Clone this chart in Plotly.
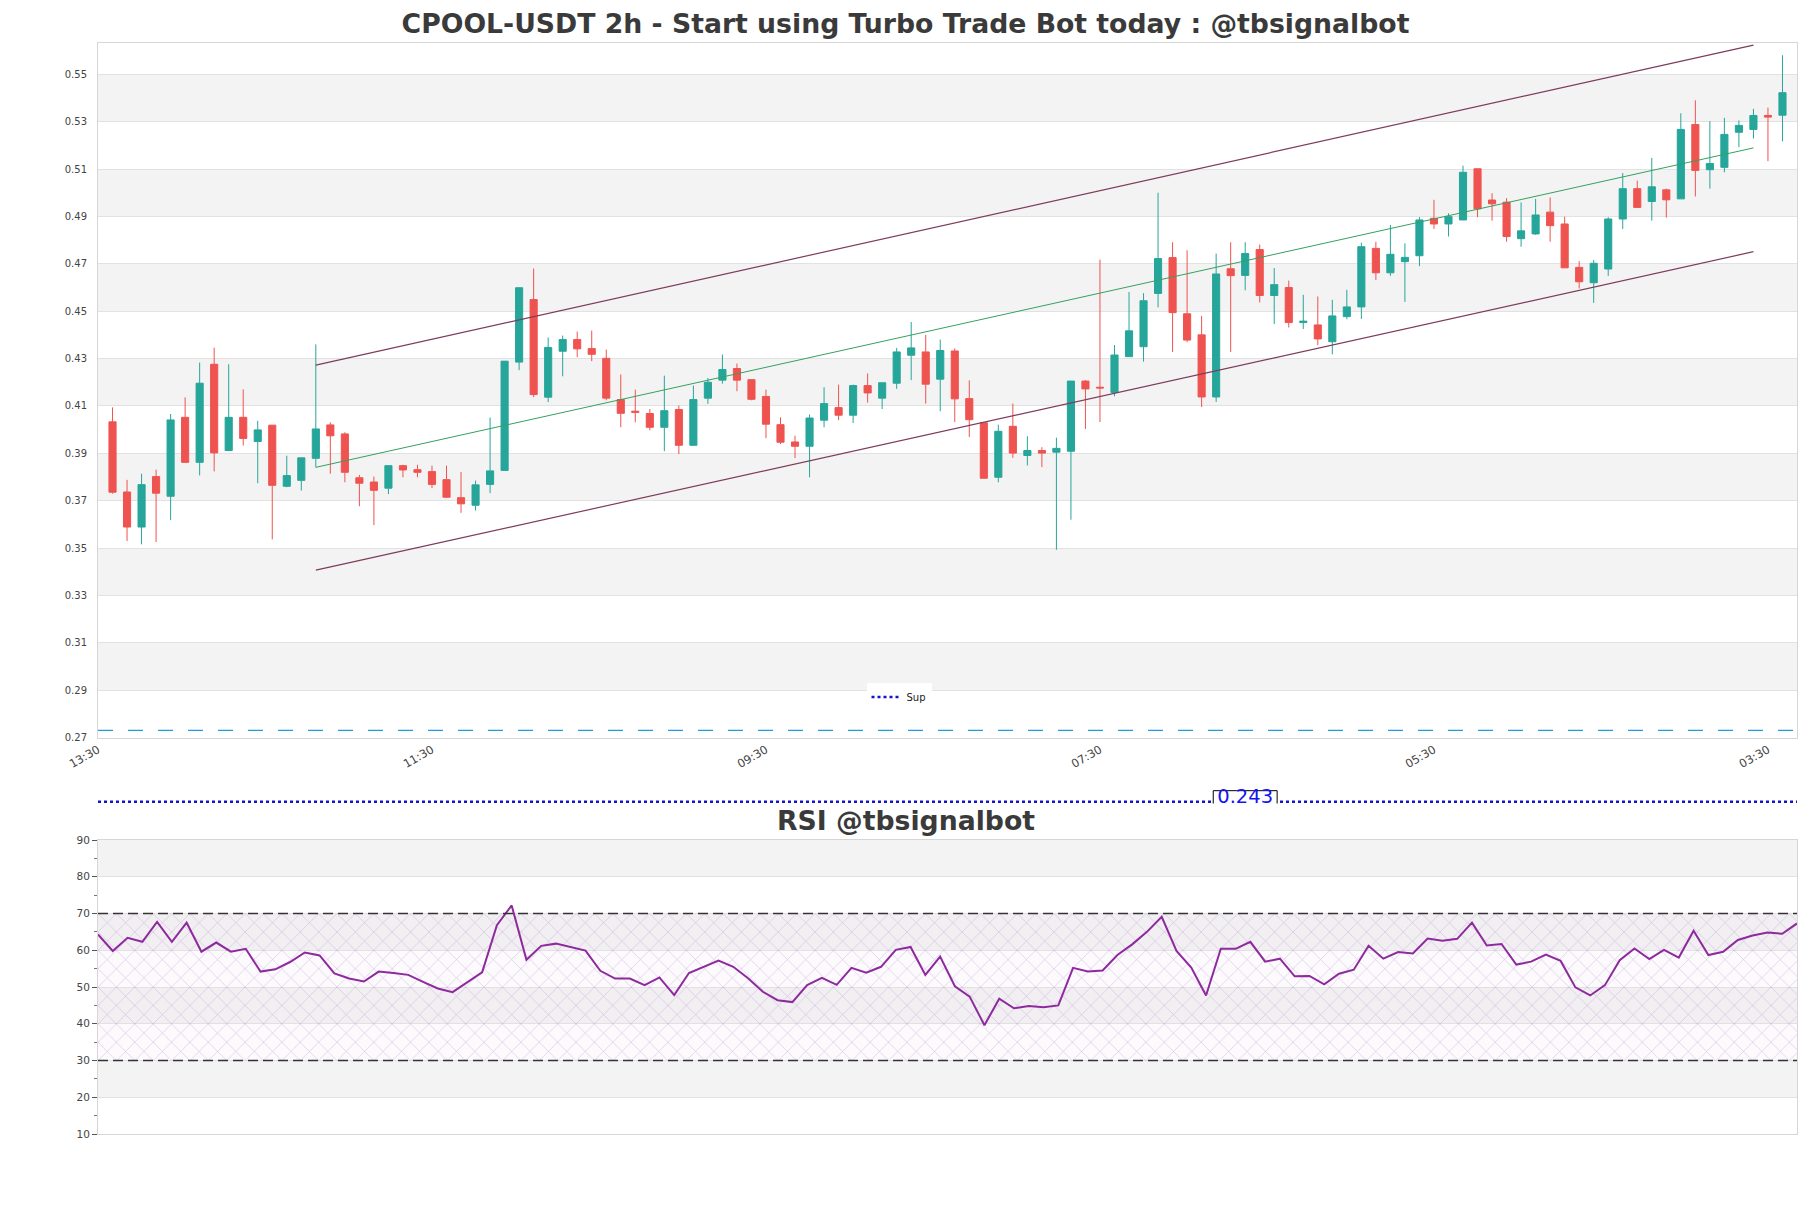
import pandas as pd
import plotly.graph_objects as go

# the page adds an 8px body margin, so the figure is a bit smaller than the window
W, H = 1795, 1192
PAGE_OFF = 8
PLOT_L, PLOT_R = 98, 1797  # target pixel columns of the plot area in the window

TITLE = "CPOOL-USDT 2h - Start using Turbo Trade Bot today : @tbsignalbot"
RSI_TITLE = "RSI @tbsignalbot"

# 116 two-hour candles; the axis starts one bar earlier (13:30)
times = pd.date_range("2024-05-06 15:30", periods=116, freq="2h")

opens = [
    0.4033, 0.3737, 0.3589, 0.3802, 0.3719, 0.4052, 0.3862, 0.4276, 0.3912, 0.4052,
    0.3950, 0.4019, 0.3761, 0.3786, 0.3879, 0.4020, 0.3982, 0.3797, 0.3779, 0.3753,
    0.3848, 0.3831, 0.3823, 0.3789, 0.3713, 0.3681, 0.3769, 0.3828, 0.4285, 0.4549,
    0.4137, 0.4331, 0.4380, 0.4342, 0.4301, 0.4127, 0.4078, 0.4068, 0.4010, 0.4085,
    0.3934, 0.4133, 0.4209, 0.4258, 0.4211, 0.4140, 0.4021, 0.3948, 0.3930, 0.4040,
    0.4093, 0.4061, 0.4186, 0.4133, 0.4196, 0.4314, 0.4328, 0.4213, 0.4332, 0.4131,
    0.4029, 0.3799, 0.4014, 0.3891, 0.3912, 0.3905, 0.3909, 0.4205, 0.4179, 0.4157,
    0.4308, 0.4350, 0.4575, 0.4726, 0.4489, 0.4400, 0.4138, 0.4679, 0.4651, 0.4760,
    0.4566, 0.4600, 0.4452, 0.4442, 0.4371, 0.4477, 0.4518, 0.4765, 0.4662, 0.4709,
    0.4734, 0.4892, 0.4868, 0.4885, 0.5101, 0.4969, 0.4960, 0.4806, 0.4826, 0.4918,
    0.4868, 0.4685, 0.4620, 0.4678, 0.4889, 0.5017, 0.4963, 0.5012, 0.4974, 0.5288,
    0.5097, 0.5107, 0.5255, 0.5267, 0.5326, 0.5327,
]
highs = [
    0.4094, 0.3788, 0.3814, 0.3831, 0.4066, 0.4136, 0.4283, 0.4346, 0.4276, 0.4170,
    0.4037, 0.4019, 0.3890, 0.3881, 0.4360, 0.4031, 0.3989, 0.3809, 0.3802, 0.3848,
    0.3852, 0.3852, 0.3848, 0.3848, 0.3821, 0.3785, 0.4051, 0.4289, 0.4599, 0.4680,
    0.4389, 0.4397, 0.4414, 0.4418, 0.4338, 0.4233, 0.4169, 0.4087, 0.4228, 0.4102,
    0.4186, 0.4218, 0.4317, 0.4279, 0.4211, 0.4169, 0.4052, 0.3975, 0.4064, 0.4179,
    0.4190, 0.4190, 0.4237, 0.4198, 0.4345, 0.4454, 0.4400, 0.4380, 0.4343, 0.4208,
    0.4029, 0.4021, 0.4110, 0.3972, 0.3926, 0.3966, 0.4205, 0.4209, 0.4718, 0.4357,
    0.4581, 0.4576, 0.5000, 0.4791, 0.4757, 0.4480, 0.4743, 0.4791, 0.4791, 0.4781,
    0.4682, 0.4629, 0.4569, 0.4562, 0.4548, 0.4590, 0.4789, 0.4793, 0.4864, 0.4786,
    0.4897, 0.4970, 0.4913, 0.5114, 0.5101, 0.4998, 0.4977, 0.4959, 0.4974, 0.4980,
    0.4899, 0.4711, 0.4716, 0.4897, 0.5083, 0.5051, 0.5147, 0.5017, 0.5335, 0.5390,
    0.5302, 0.5316, 0.5305, 0.5354, 0.5359, 0.5580,
]
lows = [
    0.3730, 0.3530, 0.3516, 0.3526, 0.3618, 0.3862, 0.3807, 0.3824, 0.3910, 0.3933,
    0.3774, 0.3537, 0.3757, 0.3743, 0.3841, 0.3814, 0.3778, 0.3677, 0.3597, 0.3728,
    0.3799, 0.3799, 0.3753, 0.3712, 0.3649, 0.3659, 0.3732, 0.3828, 0.4251, 0.4137,
    0.4116, 0.4225, 0.4306, 0.4289, 0.4124, 0.4010, 0.4031, 0.3997, 0.3909, 0.3897,
    0.3934, 0.4109, 0.4194, 0.4162, 0.4124, 0.3964, 0.3939, 0.3880, 0.3799, 0.4010,
    0.4040, 0.4028, 0.4114, 0.4087, 0.4172, 0.4209, 0.4110, 0.4078, 0.4032, 0.3969,
    0.3792, 0.3778, 0.3881, 0.3849, 0.3842, 0.3493, 0.3620, 0.4003, 0.4032, 0.4141,
    0.4308, 0.4287, 0.4516, 0.4328, 0.4369, 0.4096, 0.4117, 0.4328, 0.4588, 0.4537,
    0.4446, 0.4431, 0.4425, 0.4357, 0.4318, 0.4466, 0.4467, 0.4631, 0.4649, 0.4539,
    0.4690, 0.4847, 0.4815, 0.4885, 0.4897, 0.4882, 0.4793, 0.4772, 0.4822, 0.4793,
    0.4683, 0.4596, 0.4535, 0.4649, 0.4847, 0.4935, 0.4882, 0.4895, 0.4974, 0.4984,
    0.5017, 0.5086, 0.5192, 0.5229, 0.5133, 0.5217,
]
closes = [
    0.3736, 0.3589, 0.3768, 0.3732, 0.4041, 0.3862, 0.4196, 0.3902, 0.4052, 0.3963,
    0.3999, 0.3765, 0.3806, 0.3881, 0.4003, 0.3974, 0.3820, 0.3774, 0.3744, 0.3848,
    0.3830, 0.3820, 0.3769, 0.3715, 0.3687, 0.3767, 0.3826, 0.4289, 0.4599, 0.4148,
    0.4347, 0.4380, 0.4341, 0.4318, 0.4133, 0.4069, 0.4073, 0.4010, 0.4080, 0.3934,
    0.4127, 0.4200, 0.4254, 0.4209, 0.4128, 0.4023, 0.3947, 0.3930, 0.4049, 0.4110,
    0.4061, 0.4186, 0.4155, 0.4198, 0.4328, 0.4345, 0.4192, 0.4334, 0.4130, 0.4042,
    0.3795, 0.3993, 0.3901, 0.3912, 0.3901, 0.3921, 0.4205, 0.4172, 0.4176, 0.4315,
    0.4417, 0.4544, 0.4722, 0.4494, 0.4378, 0.4138, 0.4657, 0.4650, 0.4743, 0.4566,
    0.4612, 0.4452, 0.4458, 0.4383, 0.4480, 0.4518, 0.4772, 0.4662, 0.4740, 0.4727,
    0.4885, 0.4868, 0.4899, 0.5086, 0.4932, 0.4953, 0.4815, 0.4839, 0.4906, 0.4861,
    0.4683, 0.4624, 0.4702, 0.4889, 0.5017, 0.4938, 0.5025, 0.4970, 0.5267, 0.5094,
    0.5123, 0.5246, 0.5284, 0.5326, 0.5319, 0.5422,
]
rsi = [
    64.3, 59.8, 63.4, 62.3, 67.7, 62.3, 67.5, 59.6, 62.1, 59.6,
    60.4, 54.2, 54.8, 56.8, 59.4, 58.6, 53.7, 52.3, 51.5, 54.2,
    53.8, 53.3, 51.4, 49.6, 48.6, 51.4, 54.0, 66.8, 72.2, 57.4,
    61.2, 61.8, 60.8, 59.9, 54.4, 52.3, 52.3, 50.5, 52.6, 47.8,
    53.8, 55.6, 57.2, 55.5, 52.4, 48.7, 46.4, 45.9, 50.5, 52.5,
    50.6, 55.2, 53.9, 55.5, 60.1, 60.9, 53.3, 58.3, 50.2, 47.4,
    39.6, 46.8, 44.2, 44.8, 44.5, 45.0, 55.2, 54.2, 54.5, 58.7,
    61.6, 65.0, 69.1, 59.8, 55.3, 47.7, 60.4, 60.4, 62.3, 56.9,
    57.7, 52.9, 53.0, 50.7, 53.6, 54.7, 61.2, 57.7, 59.5, 59.1,
    63.2, 62.6, 63.1, 67.5, 61.3, 61.7, 56.1, 56.9, 58.8, 57.1,
    49.9, 47.7, 50.5, 57.3, 60.5, 57.6, 60.1, 58.0, 65.3, 58.7,
    59.6, 62.8, 64.0, 64.8, 64.5, 67.3,
]

# regression channel, drawn from candle 15 to candle 114
channel_idx = [14, 113]
channel_upper = [0.4272, 0.5623]
channel_mid = [0.3841, 0.5189]
channel_lower = [0.3407, 0.4751]

sup_level = 0.243
sup_label_idx = 78
floor_level = 0.2731
rsi_levels = [70, 30]

UP, DOWN = "#26a69a", "#ef5350"
CHANNEL = "#7d3c5c"
MID = "#34a15e"
RSI_COLOR = "#8e2a9e"
BAND = "#f3f3f3"
GRID = "#e2e2e2"
FRAME = "#d6d6d6"
TXT = "#444444"


def fy(px):
    # window pixel row -> paper fraction (margins t=b=0)
    return 1 - (px - PAGE_OFF) / H


def fx(px):
    # window pixel column -> paper fraction of the plot width
    return (px - PLOT_L) / (PLOT_R - PLOT_L)


bar = pd.Timedelta(hours=2)
x_range = [times[0] - bar, times[-1] + bar]

fig = go.Figure()

fig.add_trace(go.Candlestick(
    x=times, open=opens, high=highs, low=lows, close=closes,
    increasing=dict(line=dict(color=UP, width=1), fillcolor=UP),
    decreasing=dict(line=dict(color=DOWN, width=1), fillcolor=DOWN),
    showlegend=False, xaxis="x", yaxis="y",
))

cx = [times[i] for i in channel_idx]
for ys, col, w in [(channel_upper, CHANNEL, 1.2), (channel_mid, MID, 1.0),
                   (channel_lower, CHANNEL, 1.2)]:
    fig.add_trace(go.Scatter(x=cx, y=ys, mode="lines", line=dict(color=col, width=w),
                             showlegend=False, hoverinfo="skip", xaxis="x", yaxis="y"))

# support line sits just below the price range, in a thin strip of its own
fig.add_trace(go.Scatter(
    x=x_range, y=[sup_level, sup_level], mode="lines", name="Sup",
    line=dict(color="#1414c8", width=2.5, dash="dot"),
    xaxis="x", yaxis="y3", showlegend=True,
))
lt = times[sup_label_idx]
half = pd.Timedelta(hours=4.4)
fig.add_trace(go.Scatter(
    x=[lt - half, lt + half, lt + half, lt - half, lt - half],
    y=[sup_level - 0.0047, sup_level - 0.0047, sup_level + 0.0047,
       sup_level + 0.0047, sup_level - 0.0047],
    mode="lines", fill="toself", fillcolor="white", line=dict(color="black", width=1),
    showlegend=False, hoverinfo="skip", xaxis="x", yaxis="y3",
))
fig.add_trace(go.Scatter(
    x=[lt], y=[sup_level + 0.0017], mode="text", text=[f"{sup_level:.3f}"],
    textfont=dict(color="#1414ee", size=19.5, family="DejaVu Sans"),
    showlegend=False, hoverinfo="skip", xaxis="x", yaxis="y3",
))

# hatched zone between the RSI levels
fig.add_trace(go.Scatter(
    x=[times[0], times[-1]], y=[rsi_levels[1]] * 2, mode="lines", line=dict(width=0),
    showlegend=False, hoverinfo="skip", xaxis="x2", yaxis="y2",
))
fig.add_trace(go.Scatter(
    x=[times[0], times[-1]], y=[rsi_levels[0]] * 2, mode="lines", line=dict(width=0),
    fill="tonexty", fillcolor="rgba(0,0,0,0)",
    fillpattern=dict(shape="x", size=13, solidity=0.08,
                     fgcolor="rgba(180,140,200,0.6)", bgcolor="rgba(225,205,235,0.10)"),
    showlegend=False, hoverinfo="skip", xaxis="x2", yaxis="y2",
))
fig.add_trace(go.Scatter(
    x=times, y=rsi, mode="lines", line=dict(color=RSI_COLOR, width=2),
    showlegend=False, xaxis="x2", yaxis="y2",
))

# alternating bands
for v in [0.29, 0.33, 0.37, 0.41, 0.45, 0.49, 0.53]:
    fig.add_shape(type="rect", xref="x domain", yref="y", x0=0, x1=1, y0=v, y1=v + 0.02,
                  fillcolor=BAND, line_width=0, layer="below")
for v in [20, 40, 60, 80]:
    fig.add_shape(type="rect", xref="x2 domain", yref="y2", x0=0, x1=1, y0=v, y1=v + 10,
                  fillcolor=BAND, line_width=0, layer="below")

fig.add_shape(type="line", xref="x domain", yref="y", x0=0, x1=1,
              y0=floor_level, y1=floor_level,
              line=dict(color="#1e9fd8", width=1.4, dash="longdash"))
for lv in rsi_levels:
    fig.add_shape(type="line", xref="x2 domain", yref="y2", x0=0, x1=1, y0=lv, y1=lv,
                  line=dict(color="#333333", width=1.4, dash="10px,5px"))

fig.add_annotation(text=f"<b>{RSI_TITLE}</b>", xref="paper", yref="paper",
                   x=fx(905.5), y=fy(820), showarrow=False,
                   xanchor="center", yanchor="middle",
                   font=dict(size=26.7, color="#3a3a3a", family="DejaVu Sans"))

axis_common = dict(showline=True, mirror=True, linecolor=FRAME, linewidth=1,
                   zeroline=False)

fig.update_layout(
    width=W, height=H,
    template="none",
    paper_bgcolor="white", plot_bgcolor="white",
    margin=dict(l=PLOT_L - PAGE_OFF, r=W - (PLOT_R - PAGE_OFF), t=0, b=0),
    font=dict(family="DejaVu Sans", color=TXT, size=10),
    title=dict(text=f"<b>{TITLE}</b>", x=0.5, xref="container", xanchor="center",
               y=fy(24), yref="container", yanchor="middle",
               font=dict(size=26.7, color="#3a3a3a", family="DejaVu Sans")),
    showlegend=True,
    legend=dict(x=fx(899), xanchor="center", y=fy(697), yanchor="middle",
                bgcolor="white", borderwidth=0, font=dict(size=10, color="#222"),
                itemwidth=30),
    hovermode=False,
    xaxis=dict(domain=[0, 1], anchor="y", type="date", range=x_range,
               tick0=x_range[0], dtick=46 * 3600 * 1000, tickformat="%H:%M",
               tickangle=-30, showgrid=False, ticks="", tickfont=dict(size=11.5),
               rangeslider=dict(visible=False), **axis_common),
    yaxis=dict(domain=[fy(737.7), fy(42.7)], anchor="x", range=[0.27, 0.5633],
               tick0=0.27, dtick=0.02, tickformat=".2f", showgrid=True,
               gridcolor=GRID, gridwidth=1, ticks="", ticklabelstandoff=8,
               **axis_common),
    xaxis2=dict(domain=[0, 1], anchor="y2", type="date", range=[times[0], times[-1]],
                showticklabels=False, showgrid=False, ticks="", **axis_common),
    yaxis2=dict(domain=[fy(1134), fy(840)], anchor="x2", range=[10, 90], dtick=10,
                showgrid=True, gridcolor=GRID, ticks="outside", ticklen=5,
                tickcolor="#555", tickfont=dict(size=10.5),
                minor=dict(ticks="outside", ticklen=3, dtick=5, tickcolor="#777"),
                **axis_common),
    yaxis3=dict(domain=[fy(803.5), fy(780)], anchor="x",
                range=[0.2423, 0.2522], visible=False, showgrid=False),
)

fig.write_html("out.html")
